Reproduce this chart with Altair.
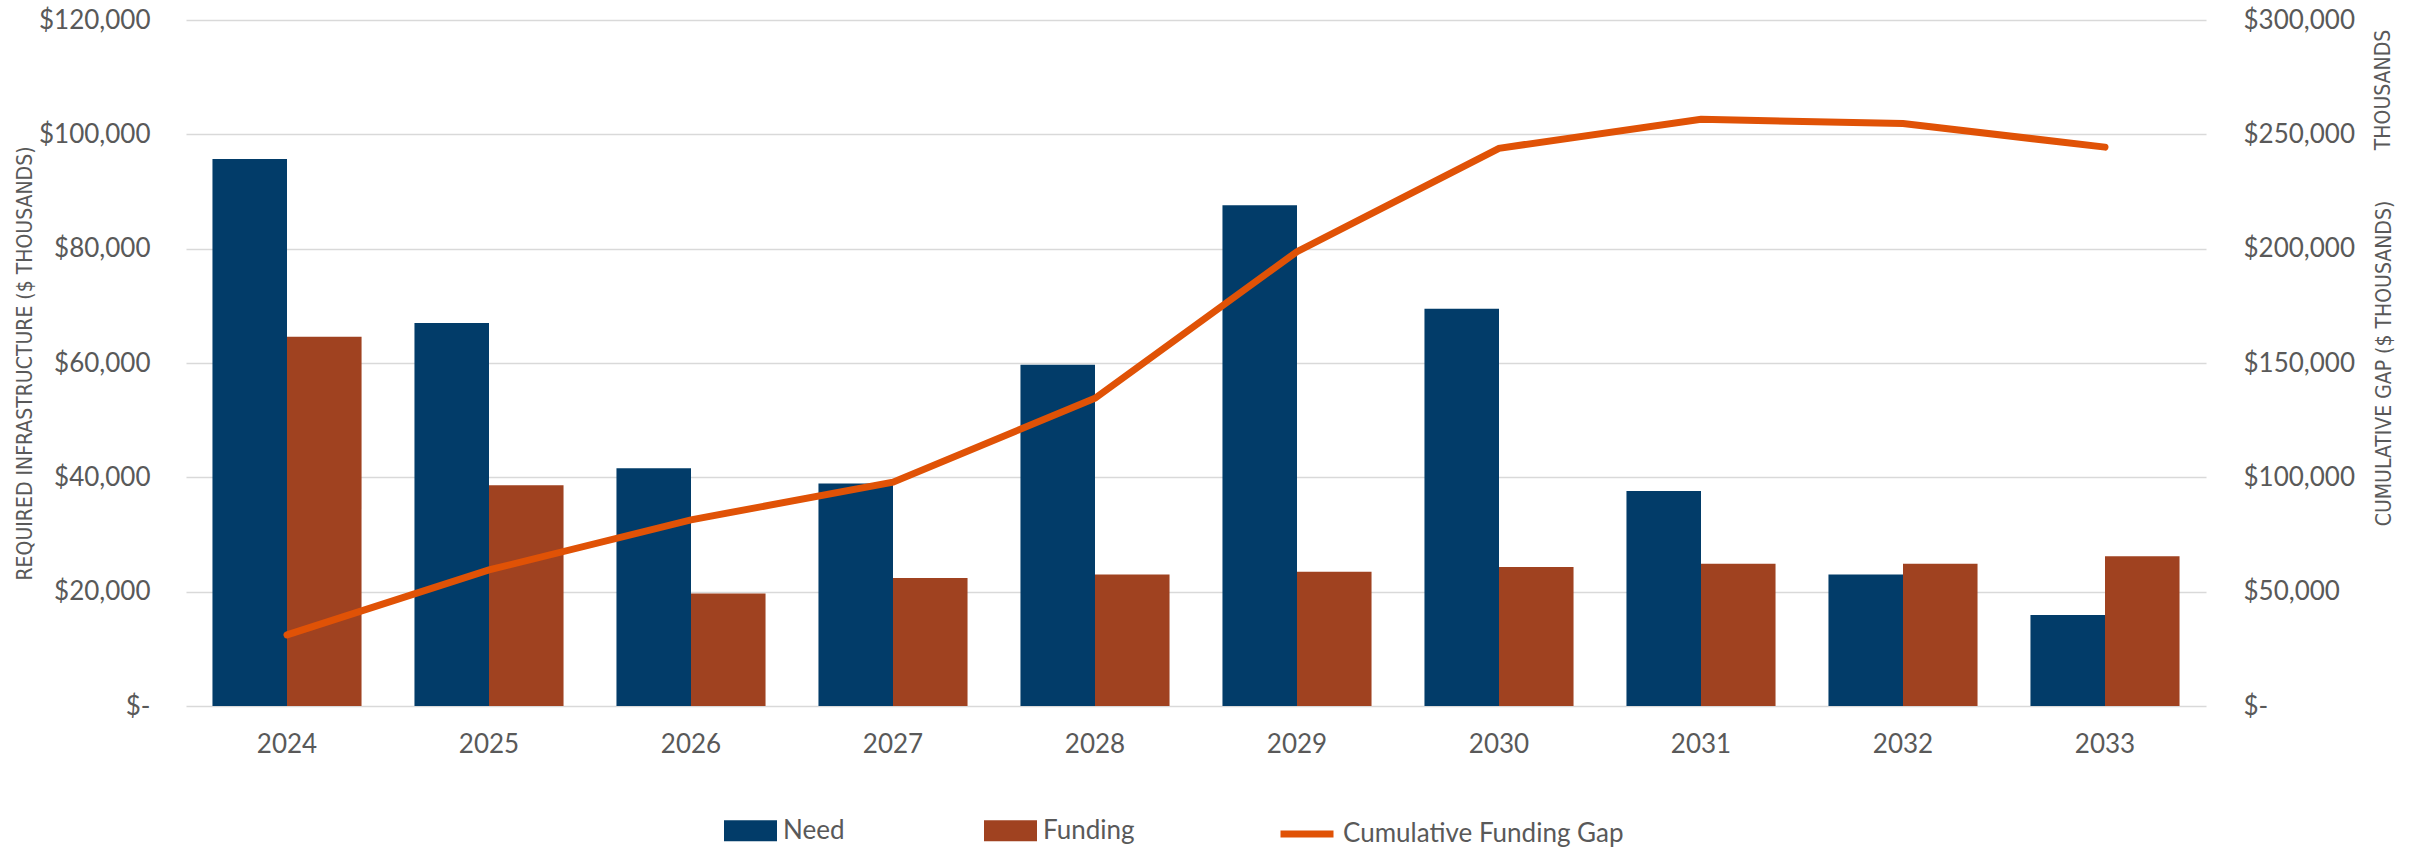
import altair as alt
import pandas as pd

# ---- data ----
years = ["2024", "2025", "2026", "2027", "2028", "2029", "2030", "2031", "2032", "2033"]
need = [95700, 67000, 41600, 38900, 59700, 87600, 69500, 37600, 23000, 15900]
funding = [64600, 38600, 19700, 22400, 23000, 23500, 24300, 24900, 24900, 26200]
cum_gap = [31100, 59500, 81400, 97900, 134600, 198700, 243900, 256600, 254700, 244400]
bar_series = ["Need", "Funding"]
line_series = ["Cumulative Funding Gap"]
left_ticks = [0, 20000, 40000, 60000, 80000, 100000, 120000]
right_ticks = [0, 50000, 100000, 150000, 200000, 250000, 300000]

rows = []
for i, yr in enumerate(years):
    rows.append({"year": yr, "series": "Need", "value": need[i]})
    rows.append({"year": yr, "series": "Funding", "value": funding[i]})
bars_df = pd.DataFrame(rows)
line_df = pd.DataFrame({"year": years, "gap": cum_gap, "series": line_series * len(years)})
note_df = pd.DataFrame({"t": ["THOUSANDS"]})

FONT = "Lato"
TITLE_FONT = "Liberation Sans Narrow, DejaVu Sans Condensed, Roboto Condensed, Lato"
GRAY = "#595959"
NAVY = "#023C69"
RUST = "#A04220"
ORANGE = "#E05206"
LABEL_SIZE = 26
TITLE_SIZE = 21

label_expr = "datum.value == 0 ? '$-' : '$' + format(datum.value, ',')"

x_enc = alt.X(
    "year:O",
    sort=years,
    scale=alt.Scale(paddingInner=0.262, paddingOuter=0.131),
    axis=alt.Axis(
        title=None, labelAngle=0, domain=False, ticks=False, grid=False,
        labelPadding=25, labelFont=FONT, labelFontSize=LABEL_SIZE, labelColor=GRAY,
    ),
)

bars = alt.Chart(bars_df).mark_bar().encode(
    x=x_enc,
    xOffset=alt.XOffset("series:N", sort=bar_series,
                        scale=alt.Scale(domain=bar_series, paddingInner=0, paddingOuter=0)),
    y=alt.Y(
        "value:Q",
        scale=alt.Scale(domain=[0, 120000], nice=False),
        axis=alt.Axis(
            values=left_ticks, labelExpr=label_expr,
            title="REQUIRED INFRASTRUCTURE ($ THOUSANDS)",
            grid=True, gridColor="#d9d9d9", gridWidth=1.3,
            domain=False, ticks=False, labelPadding=36,
            labelFont=FONT, labelFontSize=LABEL_SIZE, labelColor=GRAY,
            titleFont=TITLE_FONT, titleFontSize=TITLE_SIZE, titleFontWeight="normal",
            titleColor=GRAY, titleAngle=270, titleX=-161, titleY=343,
            titleAlign="center", titleBaseline="middle",
        ),
    ),
    fill=alt.Fill(
        "series:N", sort=bar_series,
        scale=alt.Scale(domain=bar_series, range=[NAVY, RUST]),
        legend=alt.Legend(
            title=None, orient="none", legendX=538, legendY=784, direction="horizontal",
            symbolType="M-1,-0.4H1V0.4H-1Z", symbolSize=2809, symbolStrokeWidth=0,
            labelFont=FONT, labelFontSize=LABEL_SIZE, labelColor=GRAY, labelOffset=6,
            labelLimit=0, columnPadding=139, padding=0,
        ),
    ),
)

line = alt.Chart(line_df).mark_line(strokeWidth=7, strokeCap="round").encode(
    x=alt.X("year:O", sort=years),
    y=alt.Y(
        "gap:Q",
        scale=alt.Scale(domain=[0, 300000], nice=False),
        axis=alt.Axis(
            orient="right", values=right_ticks, labelExpr=label_expr,
            title="CUMULATIVE GAP ($ THOUSANDS)",
            grid=False, domain=False, ticks=False, labelPadding=37,
            labelFont=FONT, labelFontSize=LABEL_SIZE, labelColor=GRAY,
            titleFont=TITLE_FONT, titleFontSize=TITLE_SIZE, titleFontWeight="normal",
            titleColor=GRAY, titleAngle=270, titleX=178, titleY=343,
            titleAlign="center", titleBaseline="middle",
        ),
    ),
    stroke=alt.Stroke(
        "series:N",
        scale=alt.Scale(domain=line_series, range=[ORANGE]),
        legend=alt.Legend(
            title=None, orient="none", legendX=1091, legendY=784, direction="horizontal",
            symbolType="stroke", symbolSize=2809, symbolStrokeWidth=7,
            labelFont=FONT, labelFontSize=LABEL_SIZE, labelColor=GRAY, labelOffset=6,
            labelLimit=0, padding=0,
        ),
    ),
)

note = alt.Chart(note_df).mark_text(
    angle=270, font=TITLE_FONT, fontSize=TITLE_SIZE, color=GRAY,
    align="center", baseline="middle",
).encode(text="t:N", x=alt.value(2198), y=alt.value(70))

chart = (
    alt.layer(bars, line, note)
    .resolve_scale(y="independent")
    .properties(
        width=2020, height=686,
        autosize=alt.AutoSizeParams(type="none"),
        padding={"left": 186, "top": 20, "right": 219, "bottom": 141},
        background="white",
    )
    .configure_view(stroke=None)
)

chart.save("out.html", embed_options={"renderer": "svg", "actions": False})
